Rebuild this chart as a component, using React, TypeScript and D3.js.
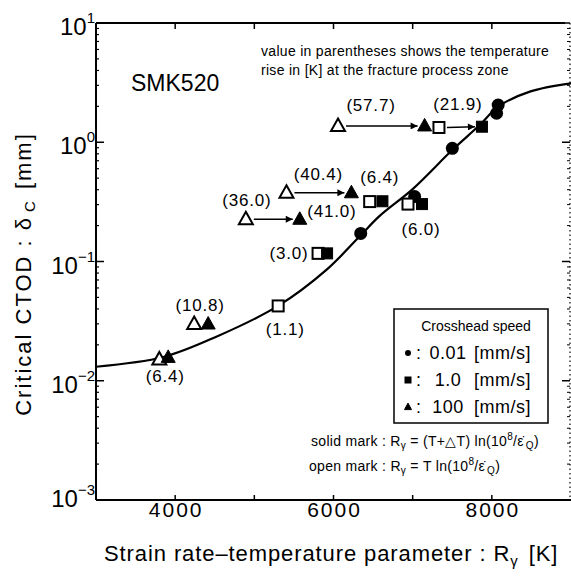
import React from 'react';
import * as d3 from 'd3';

// fitted master curve
const curveR = [3000, 3850, 4520, 5300, 5910, 6340, 6580, 7000, 7500, 7850, 8080, 8480, 9000];
const curveCTOD = [0.0131, 0.0158, 0.0234, 0.0424, 0.085, 0.165, 0.24, 0.405, 0.86, 1.4, 1.99, 2.66, 3.12];

// 0.01 mm/s (solid circles)
const circleR = [6344, 7025, 7501, 8060, 8080];
const circleCTOD = [0.172, 0.35, 0.89, 1.75, 2.05];

// open / solid pairs (1.0 mm/s squares, 100 mm/s triangles)
const pairLabel = ['57.7', '21.9', '40.4', '6.4', '36.0', '3.0', '6.0', '1.1', '10.8', '6.4'];
const pairShape = ['tri', 'sq', 'tri', 'sq', 'tri', 'sq', 'sq', 'sq', 'tri', 'tri'];
const openR = [6057, 7332, 5406, 6457, 4893, 5805, 6941, 5301, 4240, 3800];
const openCTOD = [1.37, 1.33, 0.377, 0.318, 0.226, 0.117, 0.303, 0.0424, 0.0299, 0.0151];
const solidR = [7151, 7875, 6226, 6618, 5574, 5919, 7118, null, 4417, 3912];
const solidCTOD = [1.37, 1.35, 0.377, 0.32, 0.226, 0.117, 0.303, null, 0.0299, 0.0157];
const withArrow = [true, true, true, false, true, false, false, false, false, false];
const extraLabel = '41.0';

const xTicks = [4000, 5000, 6000, 7000, 8000];
const xTickLabels = [4000, 6000, 8000];
const yDecades = [-3, -2, -1, 0, 1];

const legendRows = [
  { shape: 'circle', value: '0.01' },
  { shape: 'sq', value: '1.0' },
  { shape: 'tri', value: '100' },
];

const font = '"Liberation Sans", Arial, Helvetica, sans-serif';

const triPath = (cx: number, cy: number, w: number, h: number) =>
  `M${cx},${cy - h * 0.6}L${cx + w / 2},${cy + h * 0.4}L${cx - w / 2},${cy + h * 0.4}Z`;

function Marker({ shape, x, y, open, small }: any) {
  const fill = open ? '#fff' : '#000';
  const sw = open ? 2 : 1;
  if (shape === 'circle') {
    const r = small ? 3 : 6.5;
    return <circle cx={x} cy={y} r={r} fill="#000" />;
  }
  if (shape === 'sq') {
    const s = small ? 6 : 11;
    return <rect x={x - s / 2} y={y - s / 2} width={s} height={s} fill={fill} stroke="#000" strokeWidth={sw} />;
  }
  const w = small ? 7 : 14;
  const h = small ? 6.5 : 12.5;
  return <path d={triPath(x, y, w, h)} fill={fill} stroke="#000" strokeWidth={sw} strokeLinejoin="miter" />;
}

export default function App() {
  const W = 571, H = 576;
  const left = 96, right = 571, top = 23, bottom = 500;

  const x = d3.scaleLinear().domain([3000, 9000]).range([left, right]);
  const y = d3.scaleLog().domain([1e-3, 1e1]).range([bottom, top]);

  const line = d3.line<number>()
    .x((_, i) => x(curveR[i]))
    .y((_, i) => y(curveCTOD[i]))
    .curve(d3.curveCatmullRom.alpha(0.5));

  const minor: number[] = [];
  yDecades.slice(0, -1).forEach(e => {
    for (let k = 2; k <= 9; k++) minor.push(k * Math.pow(10, e));
  });

  // label offsets from the open marker (px)
  const labelOff = [[33, -21], [19, -23], [32, -19], [10, -25], [1, -19], [-29, 0], [13, 25], [7, 23], [6, -19], [6, 17]];

  return (
    <svg width={W} height={H} style={{ position: 'absolute', left: 0, top: 0, background: '#fff' }} fontFamily={font}>
      <defs>
        <marker id="ah" viewBox="0 0 10 10" refX="10" refY="5" markerWidth="9" markerHeight="7" markerUnits="userSpaceOnUse" orient="auto">
          <path d="M0,0L10,5L0,10Z" fill="#000" />
        </marker>
      </defs>
      <rect width={W} height={H} fill="#fff" />

      {/* frame */}
      <line x1={left} x2={left} y1={top} y2={bottom} stroke="#000" strokeWidth={2} />
      <line x1={left} x2={right} y1={bottom} y2={bottom} stroke="#000" strokeWidth={2} />
      <line x1={left} x2={565} y1={top} y2={top} stroke="#000" strokeWidth={2} />
      <line x1={570} x2={570} y1={top} y2={bottom} stroke="#000" strokeWidth={1.2} strokeDasharray="1.5,3" />

      {/* x ticks */}
      {xTicks.map(t => (
        <g key={t}>
          <line x1={x(t)} x2={x(t)} y1={bottom} y2={bottom - 5} stroke="#000" strokeWidth={1.5} />
          <line x1={x(t)} x2={x(t)} y1={top} y2={top + 6} stroke="#000" strokeWidth={1.5} />
        </g>
      ))}
      {xTickLabels.map(t => (
        <text key={t} x={x(t) + 1} y={517} fontSize={21} letterSpacing={2} textAnchor="middle">{t}</text>
      ))}

      {/* y ticks */}
      {yDecades.map((e, i) => (
        <g key={e}>
          <line x1={left} x2={left + 8} y1={y(Math.pow(10, e))} y2={y(Math.pow(10, e))} stroke="#000" strokeWidth={1.5} />
          <line x1={570} x2={562} y1={y(Math.pow(10, e))} y2={y(Math.pow(10, e))} stroke="#000" strokeWidth={1.5} />
          <text x={95} y={y(Math.pow(10, e)) + (i === 0 ? 7 : 12)} fontSize={24} textAnchor="end">
            10<tspan fontSize={15} dy={-12}>{e < 0 ? '\u2212' + (-e) : e}</tspan>
          </text>
        </g>
      ))}
      {minor.map(v => (
        <g key={v}>
          <line x1={left} x2={left + 3} y1={y(v)} y2={y(v)} stroke="#000" strokeWidth={1.2} />
          <line x1={570} x2={567} y1={y(v)} y2={y(v)} stroke="#000" strokeWidth={1} />
        </g>
      ))}

      {/* curve */}
      <path d={line(curveR) || ''} fill="none" stroke="#000" strokeWidth={2.2} />

      {/* circles */}
      {circleR.map((r, i) => (
        <Marker key={'c' + i} shape="circle" x={x(r)} y={y(circleCTOD[i])} />
      ))}

      {/* pairs */}
      {pairLabel.map((lab, i) => {
        const ox = x(openR[i]), oy = y(openCTOD[i]);
        const hasSolid = solidR[i] !== null;
        const sx = hasSolid ? x(solidR[i] as number) : 0;
        const sy = hasSolid ? y(solidCTOD[i] as number) : 0;
        const [dx, dy] = labelOff[i];
        return (
          <g key={'p' + i}>
            {withArrow[i] && (
              <line x1={ox + 8} y1={oy} x2={sx - 7} y2={sy} stroke="#000" strokeWidth={1.5} markerEnd="url(#ah)" />
            )}
            <Marker shape={pairShape[i]} x={ox} y={oy} open />
            {hasSolid && <Marker shape={pairShape[i]} x={sx} y={sy} />}
            <text x={ox + dx} y={oy + dy + 6} fontSize={17} letterSpacing={0.8} textAnchor="middle">({lab})</text>
          </g>
        );
      })}
      <text x={x(solidR[4] as number) + 32} y={y(solidCTOD[4] as number) - 2} fontSize={17} letterSpacing={0.8} textAnchor="middle">({extraLabel})</text>

      {/* annotations */}
      <text x={131} y={91} fontSize={23}>SMK520</text>
      <text x={261} y={56} fontSize={14} letterSpacing={0.3}>value in parentheses shows the temperature</text>
      <text x={261} y={75} fontSize={14} letterSpacing={0.3}>rise in [K] at the fracture process zone</text>

      {/* legend */}
      <rect x={394} y={309} width={154} height={114} fill="#fff" stroke="#000" strokeWidth={1.5} />
      <text x={476} y={331} fontSize={14} textAnchor="middle">Crosshead speed</text>
      {legendRows.map((row, i) => {
        const by = 359 + i * 27;
        return (
          <g key={row.value}>
            <Marker shape={row.shape} x={408} y={by - 6} small />
            <text x={416} y={by} fontSize={18}>:</text>
            <text x={448} y={by} fontSize={18} letterSpacing={0.5} textAnchor="middle">{row.value}</text>
            <text x={531} y={by} fontSize={18} letterSpacing={0.5} textAnchor="end">[mm/s]</text>
          </g>
        );
      })}

      <text x={311} y={446} fontSize={14} letterSpacing={0.3}>
        solid mark : R<tspan fontSize={10} dy={3}>γ</tspan><tspan dy={-3}> = (T+△T) ln(10</tspan>
        <tspan fontSize={10} dy={-6}>8</tspan><tspan dy={6}>/ε̇</tspan><tspan fontSize={10} dy={3} dx={2}>Q</tspan><tspan dy={-3}>)</tspan>
      </text>
      <text x={309} y={471} fontSize={14} letterSpacing={0.3}>
        open mark : R<tspan fontSize={10} dy={3}>γ</tspan><tspan dy={-3}> = T ln(10</tspan>
        <tspan fontSize={10} dy={-6}>8</tspan><tspan dy={6}>/ε̇</tspan><tspan fontSize={10} dy={3} dx={2}>Q</tspan><tspan dy={-3}>)</tspan>
      </text>

      {/* axis titles */}
      <text x={104} y={561} fontSize={22} letterSpacing={0.9}>
        Strain rate–temperature parameter : R<tspan fontSize={15} dy={5}>γ</tspan><tspan dy={-5} dx={10}>[K]</tspan>
      </text>
      <text transform="translate(31,274) rotate(-90)" fontSize={22} letterSpacing={2} textAnchor="middle">
        Critical CTOD : δ<tspan fontSize={15} dy={4} dx={4}>C</tspan><tspan dy={-4} dx={10}>[mm]</tspan>
      </text>
    </svg>
  );
}
